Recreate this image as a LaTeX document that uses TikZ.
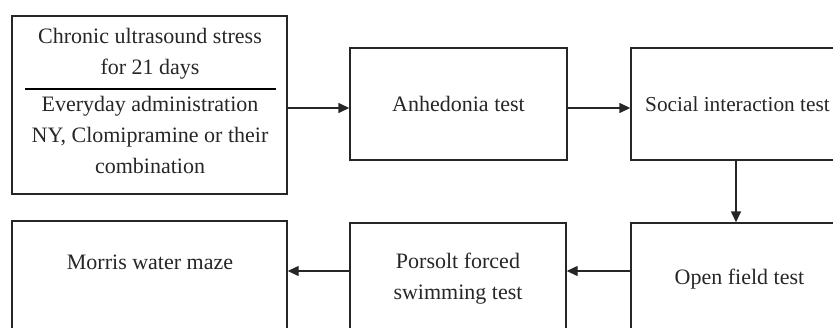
\documentclass[tikz,border=0pt]{standalone}
\usepackage{fontspec}
\setmainfont{Liberation Serif}
\usetikzlibrary{arrows.meta}
\tikzset{
  box/.style={draw=black!85, line width=1.4pt, inner sep=0pt, align=center,
              font=\fontsize{22}{31}\selectfont, text=black!85},
  txt/.style={inner sep=0pt, align=center, font=\fontsize{22}{31}\selectfont, text=black!85},
  arr/.style={draw=black!85, line width=1.4pt, -{Triangle[length=11pt,width=10pt]}},
  rulestyle/.style={draw=black, line width=2.6pt}
}
\begin{document}
\begin{tikzpicture}[x=1pt,y=-1pt]
\useasboundingbox (0,0) rectangle (833,327);
\clip (0,0) rectangle (833,327);
% row 1
\node[box, minimum width=275pt, minimum height=178pt] (b1) at (149.5,105) {};
\node[txt] (t1a) at (150,54) {Chronic ultrasound stress\\for 21 days};
\coordinate (r1) at (25,89);
\coordinate (r2) at (276,89);
\draw[rulestyle] (r1) -- (r2);
\node[txt] (t1b) at (150,135) {Everyday administration\\NY, Clomipramine or their\\combination};
\node[box, minimum width=217pt, minimum height=112pt] (b2) at (458.5,104) {Anhedonia test};
\node[box, minimum width=217pt, minimum height=112pt] (b3) at (739.5,104) {};
\node[txt, font=\fontsize{21.3}{31}\selectfont, anchor=west] (t3) at (645,104) {Social interaction test};
% row 2
\node[box, minimum width=275pt, minimum height=114pt] (b4) at (149.5,278) {};
\node[txt] (t4) at (150,262) {Morris water maze};
\node[box, minimum width=216pt, minimum height=112pt] (b5) at (458,279) {Porsolt forced\\swimming test};
\node[box, minimum width=217pt, minimum height=112pt] (b6) at (739.5,279) {Open field test};
% connectors
\draw[arr] ([yshift=-3pt]b1.east) -- ([yshift=-4pt]b2.west);
\draw[arr] ([yshift=-4pt]b2.east) -- ([yshift=-4pt]b3.west);
\draw[arr] ([xshift=-3.5pt]b3.south) -- ([xshift=-3.5pt]b6.north);
\draw[arr] ([yshift=8pt]b6.west) -- ([yshift=8pt]b5.east);
\draw[arr] ([yshift=8pt]b5.west) -- ([yshift=7pt]b4.east);
\end{tikzpicture}
\end{document}
